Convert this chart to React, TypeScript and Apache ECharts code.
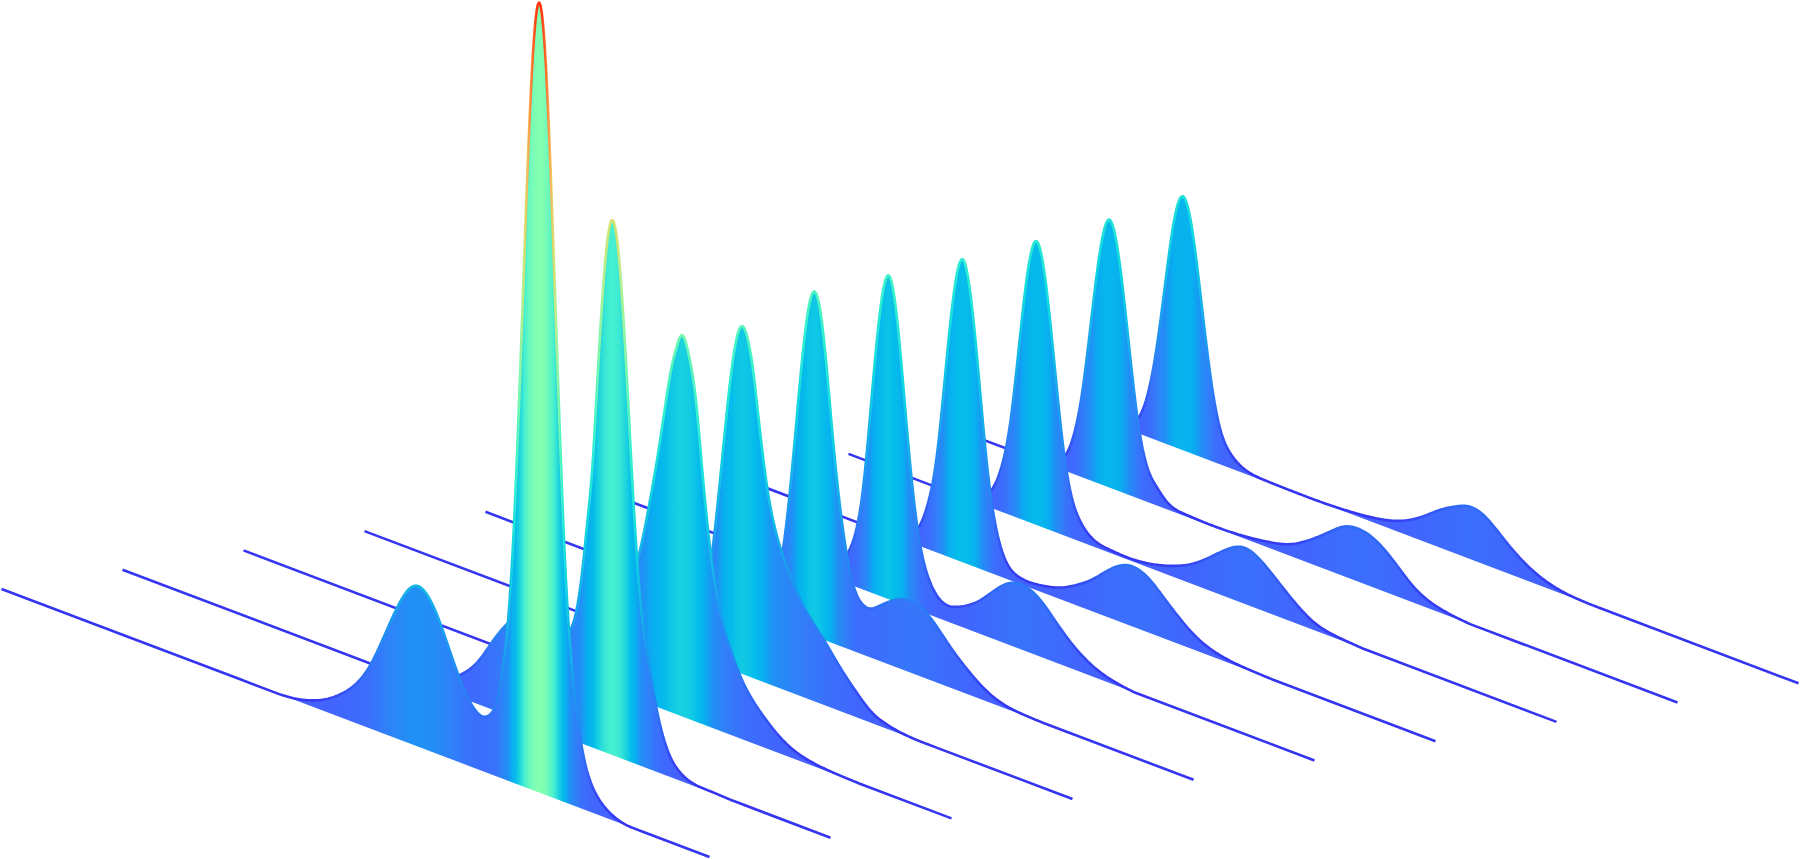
import React, { useEffect, useRef } from "react";
import * as echarts from "echarts";

// Each ridge: [distance along its baseline, height above its baseline]
const ridge0 = [[0,0],[240,0],[279,0],[296,2],[310,6],[325,13],[340,24],[355,40],[369,64],[382,96],[396,132],[406,152],[414,160],[424,157],[436,138],[449,106],[462,76],[472,60],[483,55],[491,63],[497,82],[501,110],[505.7,150],[509.7,205],[513.7,285],[517.7,386],[521.7,499],[525.7,611],[529.7,705],[533.7,768],[537.7,790],[541.7,768],[545.7,705],[549.7,611],[553.7,499],[557.7,386],[561.7,281],[565.7,200],[570,145],[574,105],[578,75],[584,45],[592,24],[606,8],[622,1],[640,0],[708,0]];
const ridge1 = [[0,0],[280,0],[300,2],[320,10],[338,23],[355,42],[371,70],[385,92],[400,110],[415,120],[430,108],[440,103],[449,112],[455,137],[460,175],[465,225],[470,282],[475,371],[480,455],[485,514],[490.3,535],[495,514],[500,455],[505,371],[510,278],[515,200],[520,146],[525,112],[533,68],[545,26],[558,8],[585,1],[610,0],[708,0]];
const ridge2 = [[0,0],[315,0],[340,6],[355,20],[370,52],[383,98],[395,143],[405,195],[414,250],[422,306],[428,345],[433,367],[438,381],[443,373],[448,351],[453,316],[458,262],[465,192],[472,142],[480,105],[487,85],[497,62],[510,42],[525,26],[545,11],[565,4],[590,1],[615,0],[708,0]];
const ridge3 = [[0,0],[290,0],[305,1],[318,4],[328,15],[338,47],[348,113],[358,211],[365,282],[372,333],[378,348],[384,334],[388,312],[395,254],[402,200],[410,160],[422,125],[434,99],[447,80],[461,63],[477,42],[493,24],[507,11],[520,5],[540,1],[570,0],[708,0]];
const ridge4 = [[0,0],[250,0],[266,1],[275,4],[284,15],[293,47],[302,112],[311,209],[320,304],[329,345],[338,304],[347,209],[356,128],[365,76],[370,60],[376,51],[385,49],[395,56],[408,66],[418,71],[430,71],[443,64],[462,44],[485,22],[508,7],[535,1],[560,0],[708,0]];
const ridge5 = [[0,0],[190,0],[205,1],[220,6],[230,13],[240,28],[249,54],[257,105],[265.3,197],[273.7,286],[282,324],[290.3,286],[298.7,197],[307,112],[315,60],[324,32],[337,17],[352,19],[374,34],[394,55],[405,63],[415,65],[431,59],[451,39],[474,18],[497,6],[527,0],[708,0]];
const ridge6 = [[0,0],[155,0],[170,3],[182,8],[192,20],[201,48],[209.5,98],[218,184],[226.5,267],[235,303],[243.5,267],[252,184],[260.5,98],[269,45],[277,20],[290,7],[310,6],[336,13],[350,21],[366,33],[384,50],[396,58],[405,60],[420,55],[436,41],[450,28],[465,16],[490,5],[520,1],[545,0],[708,0]];
const ridge7 = [[0,0],[105,0],[120,2],[132,7],[143,18],[153,45],[161.7,92],[170.5,172],[179.2,250],[188,284],[196.7,250],[205.5,172],[214.2,92],[223,42],[232,20],[245,7],[262,3],[280,2],[300,4],[325,11],[345,21],[362,34],[380,49],[395,56],[410,51],[425,39],[442,24],[465,8],[490,2],[515,0],[708,0]];
const ridge8 = [[0,0],[55,0],[70,1],[84,5],[95,14],[104,38],[113,87],[122,163],[131,236],[140,268],[149,236],[158,163],[167,87],[176,40],[186,20],[198,7],[215,2],[240,1],[280,3],[300,6],[321,12],[341,24],[360,39],[375,50],[388,53],[402,50],[421,37],[444,16],[471,4],[500,0],[708,0]];
const ridge9 = [[0,0],[20,0],[35,4],[46.5,13],[55.5,36],[64.7,83],[74,154],[83.2,224],[92.5,254],[101.7,224],[111,154],[120.2,83],[129.5,36],[139,16],[155,4],[175,1],[200,0.5],[230,0.5],[260,2],[285,5],[308,11],[330,23],[350,38],[365,47],[378,52],[393,49],[413,33],[437,15],[460,5],[483,1],[510,0],[708,0]];
const ridges = [ridge0, ridge1, ridge2, ridge3, ridge4, ridge5, ridge6, ridge7, ridge8, ridge9];

// Colour scales: height above baseline -> colour
const fillScale: [number, string][] = [[0,"#4560ff"],[60,"#3a70fb"],[100,"#3080f8"],[160,"#2090f5"],[220,"#08aef0"],[300,"#05bceb"],[381,"#18d0e0"],[535,"#45f0d0"],[790,"#85ffb0"]];
const lineScale: [number, string][] = [[0,"#3535f0"],[30,"#3355f5"],[70,"#2a7ff5"],[120,"#1a9cf0"],[160,"#12b8e8"],[220,"#10d8e0"],[300,"#30f0d0"],[380,"#70fab0"],[470,"#b0f090"],[535,"#d8e070"],[600,"#f0c860"],[690,"#ff9040"],[750,"#ff6020"],[790,"#ff3010"]];

const ORIGIN_X = 1.5, ORIGIN_Y = 589, SLOPE = 0.3785, STEP_X = 121, STEP_Y = -19.3;

function hex(c: string) {
  return [1, 3, 5].map((k) => parseInt(c.slice(k, k + 2), 16));
}
function colourAt(scale: [number, string][], h: number) {
  if (h <= scale[0][0]) return scale[0][1];
  for (let k = 1; k < scale.length; k++) {
    if (h <= scale[k][0]) {
      const f = (h - scale[k - 1][0]) / (scale[k][0] - scale[k - 1][0]);
      const a = hex(scale[k - 1][1]), b = hex(scale[k][1]);
      return `rgb(${a.map((v, n) => Math.round(v + (b[n] - v) * f)).join(",")})`;
    }
  }
  return scale[scale.length - 1][1];
}

// Cubic spline drawing path through the read points (same role as a smoothed line).
// The zero tails at both ends stay straight; only the raised part is splined.
function densify(all: number[][], step: number) {
  let first = 0, last = all.length - 1;
  while (all[first + 1][1] === 0) first++;
  while (all[last - 1][1] === 0) last--;
  const rows = all.slice(first, last + 1);
  const n = rows.length;
  const w: number[] = [];
  for (let k = 0; k < n - 1; k++) w[k] = rows[k + 1][0] - rows[k][0];
  const c: number[] = new Array(n).fill(0), z: number[] = new Array(n).fill(0), u: number[] = new Array(n).fill(0);
  for (let k = 1; k < n - 1; k++) {
    const p = 2 * (w[k - 1] + w[k]) - w[k - 1] * u[k - 1];
    u[k] = w[k] / p;
    const r = 6 * ((rows[k + 1][1] - rows[k][1]) / w[k] - (rows[k][1] - rows[k - 1][1]) / w[k - 1]);
    z[k] = (r - w[k - 1] * z[k - 1]) / p;
  }
  for (let k = n - 2; k >= 1; k--) c[k] = z[k] - u[k] * c[k + 1];
  const out: number[][] = [...all.slice(0, first)];
  for (let k = 0; k < n - 1; k++) {
    const count = Math.max(1, Math.ceil(w[k] / step));
    for (let j = 0; j < count; j++) {
      const b = j / count, a = 1 - b;
      const h = a * rows[k][1] + b * rows[k + 1][1] + ((a * a * a - a) * c[k] + (b * b * b - b) * c[k + 1]) * w[k] * w[k] / 6;
      out.push([rows[k][0] + b * w[k], Math.max(0, h)]);
    }
  }
  out.push(...all.slice(last));
  return out;
}

function ridgeSeries(index: number) {
  const rows = ridges[index];
  return {
    type: "custom",
    coordinateSystem: "cartesian2d",
    silent: true,
    clip: false,
    encode: { x: 0, y: 1 },
    data: rows,
    renderItem: (params: any, api: any) => {
      if (params.dataIndex !== 0) return null;
      const dense = densify(rows, 1.5);
      const toPoint = (t: number, h: number) =>
        api.coord([ORIGIN_X + STEP_X * index + t, ORIGIN_Y + STEP_Y * index + SLOPE * t - h]);
      const top = dense.map(([t, h]) => toPoint(t, h));
      const start = toPoint(rows[0][0], 0);
      const end = toPoint(rows[rows.length - 1][0], 0);
      const span = end[0] - start[0];
      const gradient = (scale: [number, string][]) => ({
        type: "linear",
        global: true,
        x: start[0],
        y: 0,
        x2: end[0],
        y2: 0,
        colorStops: dense.map(([t, h], k) => ({
          offset: Math.min(1, Math.max(0, (top[k][0] - start[0]) / span)),
          color: colourAt(scale, h),
        })),
      });
      return {
        type: "group",
        children: [
          {
            type: "polygon",
            shape: { points: [...top, end, start] },
            style: { fill: gradient(fillScale), stroke: null },
          },
          {
            type: "polyline",
            shape: { points: top },
            style: { fill: null, stroke: gradient(lineScale), lineWidth: 2.6, lineJoin: "round" },
          },
        ],
      };
    },
  };
}

export default function App() {
  const ref = useRef<HTMLDivElement>(null);
  useEffect(() => {
    document.body.style.margin = "0";
    const chart = echarts.init(ref.current!, null, { renderer: "svg" });
    chart.setOption({
      animation: false,
      backgroundColor: "#ffffff",
      grid: { left: 0, right: 0, top: 0, bottom: 0 },
      xAxis: { type: "value", min: 0, max: 1800, show: false },
      yAxis: { type: "value", min: 0, max: 859, inverse: true, show: false },
      series: ridges.map((_, i) => ridgeSeries(ridges.length - 1 - i)),
    });
    return () => chart.dispose();
  }, []);
  return <div ref={ref} style={{ width: 1800, height: 859 }} />;
}
